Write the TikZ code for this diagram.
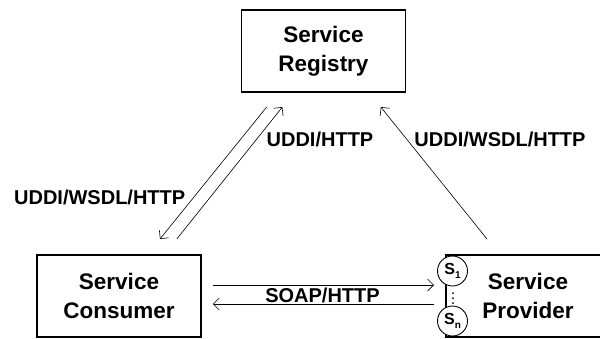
\documentclass[tikz,border=0pt]{standalone}
\usepackage{fontspec}
\setmainfont{Liberation Sans}
\usetikzlibrary{arrows.meta}
\begin{document}
\begin{tikzpicture}[x=1pt,y=-1pt,
  box/.style={draw, line width=1.1pt, minimum width=164pt, minimum height=82pt, inner sep=0pt, align=center, font=\fontsize{22.5}{29}\selectfont\bfseries},
  svc/.style={draw, circle, fill=white, line width=0.9pt, minimum size=30pt, inner sep=0pt, font=\fontsize{16}{16}\selectfont\bfseries},
  lbl/.style={font=\fontsize{20}{20}\selectfont\bfseries, inner sep=0pt},
  dot/.style={circle, fill=black, inner sep=0pt, minimum size=2pt},
  conn/.style={line width=0.6pt, -{Straight Barb[length=6pt,width=12pt,line width=0.6pt]}}]
\useasboundingbox (0,0) rectangle (600,338);
\clip (0,0) rectangle (600,338);
\fill[white] (0,0) rectangle (600,338);
\node[box] (reg) at (323.5,51) {Service\\Registry};
\node[box] (cons) at (119,296) {Service\\Consumer};
\node[box, text width=150pt] (prov) at (528,296) {Service\\Provider};
\node[svc] (s1) at (452.5,271) {S\raisebox{-3.5pt}{\fontsize{10}{10}\selectfont 1}};
\node[svc] (sn) at (452.5,321) {S\raisebox{-3.5pt}{\fontsize{10}{10}\selectfont n}};
\node[dot] (d1) at (453,293) {};
\node[dot] (d2) at (453,298) {};
\node[dot] (d3) at (453,303) {};
\coordinate (a1s) at (266.7,107);
\coordinate (a1e) at (160,239);
\coordinate (a2s) at (176.8,239);
\coordinate (a2e) at (282.4,107);
\coordinate (a3s) at (487,239);
\coordinate (a3e) at (380.8,107);
\coordinate (a4s) at (212.8,285);
\coordinate (a4e) at (434,285);
\coordinate (a5s) at (434,304);
\coordinate (a5e) at (212.8,304);
\draw[conn] (a1s) -- (a1e);
\draw[conn] (a2s) -- (a2e);
\draw[conn] (a3s) -- (a3e);
\draw[conn] (a4s) -- (a4e);
\draw[conn] (a5s) -- (a5e);
\node[lbl] (l1) at (320,139) {UDDI/HTTP};
\node[lbl] (l2) at (500,139) {UDDI/WSDL/HTTP};
\node[lbl] (l3) at (99.7,197) {UDDI/WSDL/HTTP};
\node[lbl] (l4) at (322.5,295) {SOAP/HTTP};
\end{tikzpicture}
\end{document}
